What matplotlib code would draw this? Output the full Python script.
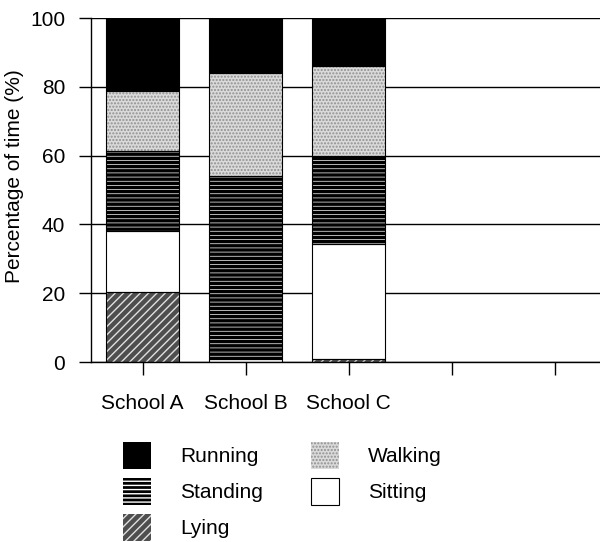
import matplotlib
matplotlib.use("Agg")
import matplotlib.pyplot as plt
import numpy as np
from matplotlib.patches import Patch

plt.rcParams['font.family'] = ['Liberation Sans', 'DejaVu Sans']

# data (percent of time)
schools = ['School A', 'School B', 'School C', '', '']
lying = [20.3, 0.0, 0.9]
sitting = [17.9, 0.9, 33.4]
standing = [23.2, 53.1, 25.5]
walking = [17.5, 30.0, 26.2]
running = [21.1, 16.0, 14.0]

# name, values, face, hatch, hatch colour, hatch width
series = [
    ('Lying', lying, '#4e4e4e', '////', '#e0e0e0', 1.0),
    ('Sitting', sitting, 'white', None, 'black', 1.0),
    ('Standing', standing, 'black', '----', 'white', 0.5),
    ('Walking', walking, '#dadada', '.....', '#909090', 1.0),
    ('Running', running, 'black', None, 'black', 1.0),
]

fig = plt.figure(figsize=(6.0, 5.42), dpi=100)
ax = fig.add_axes([91 / 600, 180 / 542, 515 / 600, 344 / 542])

x = np.arange(len(lying))
bottom = np.zeros(len(lying))
for name, vals, face, hatch, hcol, hlw in series:
    vals = np.array(vals)
    with plt.rc_context({'hatch.linewidth': hlw}):
        ax.bar(x, vals, 0.7, bottom=bottom, color=face, edgecolor=hcol,
               hatch=hatch, linewidth=0, zorder=2)
    ax.bar(x, vals, 0.7, bottom=bottom, fill=False, edgecolor='black',
           linewidth=0.8, zorder=3)
    bottom += vals

ax.set_xlim(-0.5, len(schools) - 0.5)
ax.set_ylim(0, 100)
ax.set_xticks(np.arange(len(schools)))
ax.set_xticklabels(schools, fontsize=15)
ax.set_yticks([0, 20, 40, 60, 80, 100])
ax.tick_params(axis='y', length=8.5, width=1, pad=10, labelsize=15)
ax.tick_params(axis='x', length=9, width=1, pad=14, labelsize=15)
ax.yaxis.grid(True, color='black', linewidth=1)
ax.set_axisbelow(True)
for s in ['top', 'right']:
    ax.spines[s].set_visible(False)
ax.spines['left'].set_linewidth(1)
ax.spines['bottom'].set_linewidth(1)
ax.set_ylabel('Percentage of time (%)', fontsize=15)
ax.yaxis.set_label_coords(-0.13, 0.54)

lookup = {s[0]: s for s in series}
order = ['Running', 'Standing', 'Lying', 'Walking', 'Sitting']
handles = []
for name in order:
    _, _, face, hatch, hcol, hlw = lookup[name]
    with plt.rc_context({'hatch.linewidth': hlw}):
        if name == 'Sitting':
            handles.append(Patch(facecolor='white', edgecolor='black', linewidth=0.8, label=name))
        else:
            handles.append(Patch(facecolor=face, edgecolor=hcol, hatch=hatch, linewidth=0, label=name))

fig.legend(handles=handles, loc='upper left', bbox_to_anchor=(123 / 600, 1 - 442 / 542),
           ncol=2, frameon=False, fontsize=15, borderpad=0, borderaxespad=0,
           handlelength=1.34, handleheight=1.6, handletextpad=1.4,
           labelspacing=0.45, columnspacing=2.3)

fig.savefig('out.png', dpi=100)
